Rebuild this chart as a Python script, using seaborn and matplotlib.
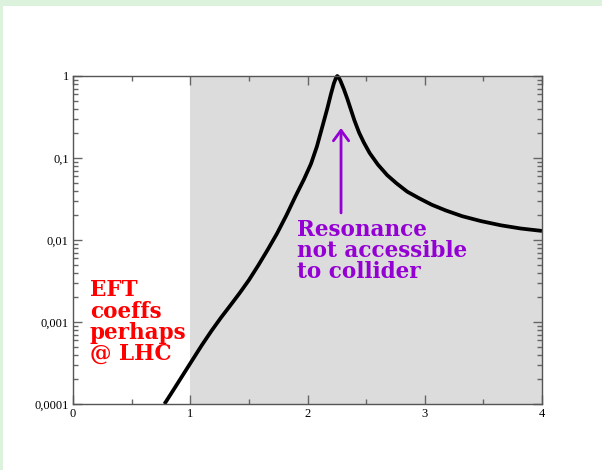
import matplotlib
matplotlib.use("Agg")
import matplotlib.pyplot as plt
import matplotlib.ticker as mticker
from matplotlib.patches import Rectangle
import seaborn as sns
import pandas as pd

# ---- data ----
x_vals = [0.78, 0.86, 0.94, 1.02, 1.10, 1.18, 1.26, 1.34, 1.42, 1.50, 1.58, 1.66,
          1.74, 1.82, 1.90, 1.97, 2.03, 2.08, 2.13, 2.17, 2.20, 2.225, 2.245, 2.254,
          2.265, 2.28, 2.31, 2.34, 2.37, 2.40, 2.44, 2.48, 2.53, 2.60, 2.68, 2.76,
          2.85, 2.95, 3.06, 3.18, 3.32, 3.48, 3.65, 3.82, 4.00]
y_vals = [1.00e-4, 1.51e-4, 2.29e-4, 3.47e-4, 5.25e-4, 7.76e-4, 1.12e-3, 1.58e-3,
          2.24e-3, 3.24e-3, 4.90e-3, 7.59e-3, 0.0120, 0.0200, 0.0347, 0.0550,
          0.0851, 0.138, 0.251, 0.407, 0.603, 0.813, 0.966, 1.0,
          0.966, 0.881, 0.692, 0.525, 0.389, 0.288, 0.204, 0.155, 0.115, 0.0832,
          0.0617, 0.0490, 0.0389, 0.0324, 0.0269, 0.0229, 0.0195, 0.0170, 0.0151,
          0.0138, 0.0129]

shade_range = [1, 4]
x_ticks = [0, 1, 2, 3, 4]
x_tick_labels = ["0", "1", "2", "3", "4"]
y_ticks = [1e-4, 1e-3, 1e-2, 1e-1, 1]
y_tick_labels = ["0,0001", "0,001", "0,01", "0,1", "1"]
red_label = "EFT\ncoeffs\nperhaps\n@ LHC"
purple_label = "Resonance\nnot accessible\nto collider"
arrow_x = 2.286
arrow_tail = 0.0214
arrow_tip = 0.232

df = pd.DataFrame({"x": x_vals, "y": y_vals})

sns.set_style("ticks")
plt.rcParams["font.family"] = ["Liberation Serif", "DejaVu Serif"]

fig = plt.figure(figsize=(6.02, 4.70), dpi=100)
fig.patch.set_facecolor("white")
green = "#dcf2dc"
fig.patches.append(Rectangle((0, 0), 3 / 602, 1, transform=fig.transFigure,
                             facecolor=green, edgecolor="none", zorder=-10))
fig.patches.append(Rectangle((0, 1 - 6 / 470), 1, 6 / 470, transform=fig.transFigure,
                             facecolor=green, edgecolor="none", zorder=-10))

ax = fig.add_axes([73 / 602, 66 / 470, 469 / 602, 328 / 470])
ax.set_facecolor("white")

ax.axvspan(shade_range[0], shade_range[1], color="#dcdcdc", lw=0, zorder=0)

sns.lineplot(data=df, x="x", y="y", ax=ax, color="black", lw=2.7, zorder=3,
             clip_on=False, solid_joinstyle="round", solid_capstyle="butt")

ax.set_yscale("log")
ax.set_xlim(0, 4)
ax.set_ylim(1e-4, 1)

ax.xaxis.set_major_locator(mticker.FixedLocator(x_ticks))
ax.xaxis.set_major_formatter(mticker.FixedFormatter(x_tick_labels))
ax.xaxis.set_minor_locator(mticker.MultipleLocator(0.5))
ax.yaxis.set_major_locator(mticker.FixedLocator(y_ticks))
ax.yaxis.set_major_formatter(mticker.FixedFormatter(y_tick_labels))
ax.yaxis.set_minor_locator(mticker.LogLocator(base=10, subs=range(2, 10), numticks=20))
ax.yaxis.set_minor_formatter(mticker.NullFormatter())

ax.set_xlabel("")
ax.set_ylabel("")

spine_c = "#555555"
for s in ax.spines.values():
    s.set_visible(True)
    s.set_color(spine_c)
    s.set_linewidth(1.0)
    s.set_zorder(5)

ax.tick_params(which="both", direction="in", top=True, right=True,
               color="#666666", labelsize=9, labelcolor="black")
ax.tick_params(which="major", length=6.5, width=1.0, pad=3)
ax.tick_params(which="minor", length=3.6, width=1.0)

ax.text(0.036, 0.38, red_label, transform=ax.transAxes, color="#ff0000",
        fontsize=15.5, fontweight="bold", family=["DejaVu Serif"],
        va="top", ha="left", linespacing=0.95, zorder=6)
ax.text(0.4776, 0.565, purple_label, transform=ax.transAxes, color="#9400d3",
        fontsize=15.5, fontweight="bold", family=["DejaVu Serif"],
        va="top", ha="left", linespacing=0.95, zorder=6)

ax.annotate("", xy=(arrow_x, arrow_tip), xytext=(arrow_x, arrow_tail),
            arrowprops=dict(arrowstyle="->,head_length=0.75,head_width=0.55",
                            color="#9400d3", lw=2.0, shrinkA=0, shrinkB=0),
            zorder=6)

fig.savefig("out.png", dpi=100)
